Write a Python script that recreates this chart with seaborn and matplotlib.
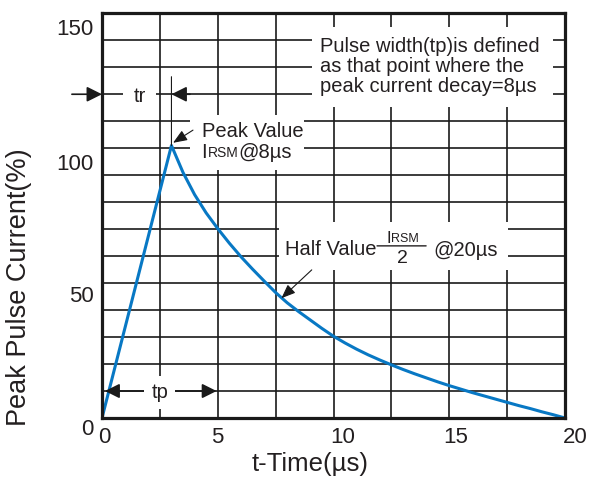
import matplotlib
matplotlib.use("Agg")
import matplotlib.pyplot as plt
import seaborn as sns
import pandas as pd
from matplotlib.patches import Rectangle
from matplotlib.transforms import ScaledTranslation
from matplotlib.ticker import MultipleLocator

# ---- data ----
time_us = [0, 3, 3.5, 4, 4.5, 5, 5.5, 6, 6.5, 7, 7.5, 8, 8.5, 9, 9.5, 10, 10.5, 11, 11.5,
           12, 12.5, 13, 13.5, 14, 14.5, 15, 15.5, 16, 16.5, 17, 17.5, 18, 18.5, 19, 19.5, 20]
current_pct = [0, 101, 91, 82.8, 76.0, 70.2, 64.8, 59.8, 55.2, 50.8, 46.5, 42.7, 39.4, 36.3,
               33.2, 30.3, 27.8, 25.5, 23.4, 21.5, 19.7, 18.0, 16.4, 14.9, 13.4, 12.0, 10.7,
               9.4, 8.2, 7.0, 5.8, 4.6, 3.5, 2.3, 1.2, 0]

x_ticks = [0, 5, 10, 15, 20]
y_ticks = [0, 50, 100, 150]
x_tick_labels = ["0", "5", "10", "15", "20"]
y_tick_labels = ["0", "50", "100", "150"]

note_lines = ["Pulse width(tp)is defined", "as that point where the", "peak current decay=8\u00b5s"]

sns.set_style("white")
plt.rcParams["font.family"] = ["Liberation Sans", "DejaVu Sans"]

TXT = "#231f20"
BLUE = "#0878c4"

fig = plt.figure(figsize=(5.92, 4.79), dpi=100)
ax = fig.add_axes([102 / 592, 1 - 418 / 479, 463 / 592, 404.7 / 479])

df = pd.DataFrame({"t": time_us, "i": current_pct})
sns.lineplot(data=df, x="t", y="i", ax=ax, color=BLUE, lw=2.2, sort=False,
             estimator=None, zorder=2)

ax.set_xlim(0, 20)
ax.set_ylim(0, 150)
ax.set_xticks(x_ticks)
ax.set_xticklabels(x_tick_labels)
ax.set_yticks(y_ticks)
ax.set_yticklabels(y_tick_labels)
ax.xaxis.set_minor_locator(MultipleLocator(2.5))
ax.yaxis.set_minor_locator(MultipleLocator(10))
ax.tick_params(which="both", length=0)
ax.tick_params(axis="x", pad=6.5, labelsize=16, labelcolor=TXT)
ax.tick_params(axis="y", pad=6, labelsize=16, labelcolor=TXT)
ax.set_axisbelow(True)
ax.grid(which="both", color="#1a1a1a", lw=1.2)
for s in ax.spines.values():
    s.set_linewidth(2.3)
    s.set_color("#1a1a1a")

# quirky tick-label offsets of the reference (pixels)
x_off = [2, 0, 9, 6, 10]
y_off = [9, 11, 14, 14]
for lab, dx in zip(ax.get_xticklabels(), x_off):
    lab.set_transform(lab.get_transform() + ScaledTranslation(dx / 100, 0, fig.dpi_scale_trans))
for lab, dy in zip(ax.get_yticklabels(), y_off):
    lab.set_transform(lab.get_transform() + ScaledTranslation(0, -dy / 100, fig.dpi_scale_trans))

ax.set_xlabel("t-Time(\u00b5s)", fontsize=18.5, color=TXT, va="center")
ax.xaxis.set_label_coords(0.449, -0.113)
ax.set_ylabel("Peak Pulse Current(%)", fontsize=19.5, color=TXT, va="center")
ax.yaxis.set_label_coords(-0.180, 0.3235)

# white masks behind the annotation texts
for (x0, x1, y0, y1) in [(9.07, 19.48, 115.3, 144.9),
                         (3.80, 8.73, 91.9, 112.3),
                         (7.65, 17.54, 54.9, 72.6)]:
    ax.add_patch(Rectangle((x0, y0), x1 - x0, y1 - y0, facecolor="white",
                           edgecolor="none", zorder=1))

FS = 14.5
# pulse width note
for k, line in enumerate(note_lines):
    ax.text(9.42, 135.5 - 7.3 * k, line, fontsize=FS, color=TXT, ha="left",
            va="baseline", zorder=3)

# tr arrows
big = dict(arrowstyle="-|>,head_length=0.4,head_width=0.2", mutation_scale=23,
           color="#1a1a1a", lw=1.2, shrinkA=0, shrinkB=0)
ax.annotate("", xy=(0, 120), xytext=(-1.3, 120), arrowprops=big,
            annotation_clip=False, zorder=3)
ax.annotate("", xy=(3.0, 120), xytext=(3.8, 120), arrowprops=big, zorder=3)
ax.annotate("", xy=(3.0, 126.5), xytext=(3.0, 101),
            arrowprops=dict(arrowstyle="-", lw=0.8, color="#1a1a1a", shrinkA=0, shrinkB=0),
            zorder=3)
ax.text(1.62, 119.3, "tr", fontsize=FS, color=TXT, ha="center", va="center", zorder=3,
        bbox=dict(boxstyle="square,pad=0.5", fc="white", ec="none"))

# tp arrows
ax.annotate("", xy=(0.13, 10), xytext=(4.95, 10),
            arrowprops=dict(arrowstyle="<|-|>,head_length=0.4,head_width=0.2",
                            mutation_scale=22, color="#1a1a1a", lw=1.2,
                            shrinkA=0, shrinkB=0), zorder=3)
ax.text(2.5, 9.3, "tp", fontsize=FS, color=TXT, ha="center", va="center", zorder=4,
        bbox=dict(boxstyle="square,pad=0.35", fc="white", ec="none"))

small = dict(arrowstyle="-|>,head_length=0.5,head_width=0.2", mutation_scale=17,
             color="#1a1a1a", lw=0.8, shrinkA=0, shrinkB=0)
# peak value note
ax.annotate("", xy=(3.07, 102), xytext=(3.93, 106.7), arrowprops=small, zorder=3)
ax.text(4.3, 104.3, "Peak Value", fontsize=FS, color=TXT, ha="left", va="baseline", zorder=3)
t_i = ax.text(4.3, 96.5, "I", fontsize=FS, color=TXT, ha="left", va="baseline", zorder=3)
t_r = ax.annotate("RSM", xy=(1, 0), xycoords=t_i, xytext=(0.5, 1.0),
                  textcoords="offset points", fontsize=10, color=TXT,
                  ha="left", va="bottom", zorder=3)
ax.annotate("@8\u00b5s", xy=(1, 0), xycoords=(t_r, t_i), fontsize=FS, color=TXT,
            ha="left", va="bottom", zorder=3)

# half value note
ax.annotate("", xy=(7.75, 44.4), xytext=(9.06, 54.9), arrowprops=small, zorder=3)
ax.text(7.9, 60.4, "Half Value", fontsize=FS, color=TXT, ha="left", va="baseline", zorder=3)
f_i = ax.text(12.27, 64.7, "I", fontsize=12, color=TXT, ha="left", va="baseline", zorder=3)
ax.annotate("RSM", xy=(1, 0), xycoords=f_i, xytext=(0.5, 0.8),
            textcoords="offset points", fontsize=9, color=TXT,
            ha="left", va="bottom", zorder=3)
ax.annotate("", xy=(14.0, 63.8), xytext=(11.88, 63.8),
            arrowprops=dict(arrowstyle="-", lw=1.0, color=TXT, shrinkA=0, shrinkB=0),
            zorder=3)
ax.text(12.98, 57.4, "2", fontsize=14, color=TXT, ha="center", va="baseline", zorder=3)
ax.text(14.3, 60.0, "@20\u00b5s", fontsize=FS, color=TXT, ha="left", va="baseline", zorder=3)

fig.savefig("out.png", dpi=100)
